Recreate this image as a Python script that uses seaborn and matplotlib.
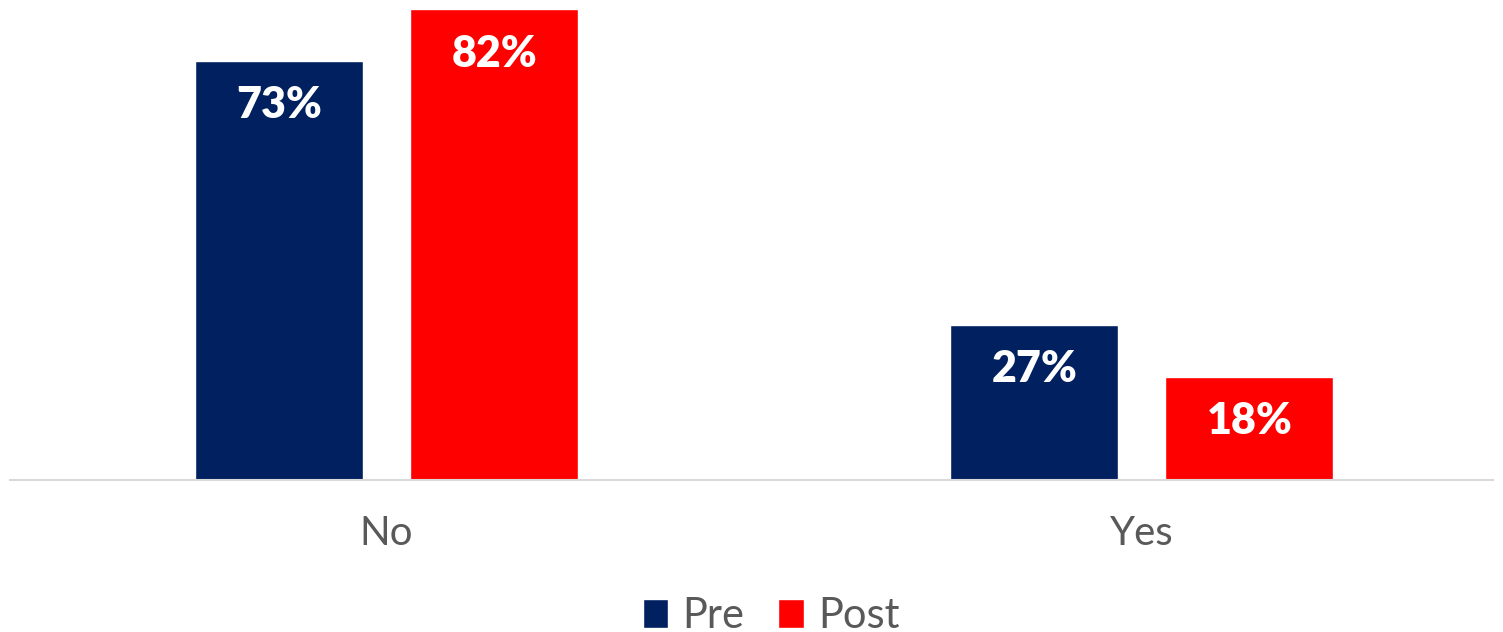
import pandas as pd
import seaborn as sns
import matplotlib.pyplot as plt

# survey answers, share of respondents (%)
answers = ['No', 'Yes']
pre = [73, 27]
post = [82, 18]
series = ['Pre', 'Post']
colors = ['#002060', '#FF0000']

df = pd.DataFrame({
    'answer': answers * 2,
    'pct': pre + post,
    'time': ['Pre'] * len(answers) + ['Post'] * len(answers),
})

sns.set_style('white')
plt.rcParams['font.family'] = ['Lato', 'DejaVu Sans']

fig = plt.figure(figsize=(15.03, 6.32), dpi=100)
ax = fig.add_axes([10 / 1503, 152 / 632, 1483 / 1503, 480 / 632])

sns.barplot(data=df, x='answer', y='pct', hue='time', hue_order=series,
            palette=colors, saturation=1, width=0.5695, gap=0.2186,
            errorbar=None, ax=ax)

# value labels inside the top of each bar
for cont in ax.containers:
    for bar in cont:
        h = bar.get_height()
        ax.annotate(f'{h:.0f}%', (bar.get_x() + bar.get_width() / 2, h),
                    xytext=(0, -41.4), textcoords='offset points',
                    ha='center', va='baseline', color='white',
                    fontsize=31, fontweight='heavy')

ax.set_xlim(-0.4987, 1.465)
ax.set_ylim(0, 83.6)
ax.set_xlabel('')
ax.set_ylabel('')
ax.set_yticks([])
ax.tick_params(axis='x', length=0, pad=25, labelsize=29, labelcolor='#595959')
for s in ['top', 'left', 'right']:
    ax.spines[s].set_visible(False)
ax.spines['bottom'].set_color('#D9D9D9')
ax.spines['bottom'].set_linewidth(1.5)

handles, labels = ax.get_legend_handles_labels()
ax.legend(handles, labels, ncol=2, loc='center', bbox_to_anchor=(771 / 1503, 16 / 632),
          bbox_transform=fig.transFigure, frameon=False, fontsize=30,
          labelcolor='#595959', handlelength=0.62, handleheight=0.7,
          handletextpad=0.34, columnspacing=0.8, borderpad=0)

fig.savefig('out.png', dpi=100)
